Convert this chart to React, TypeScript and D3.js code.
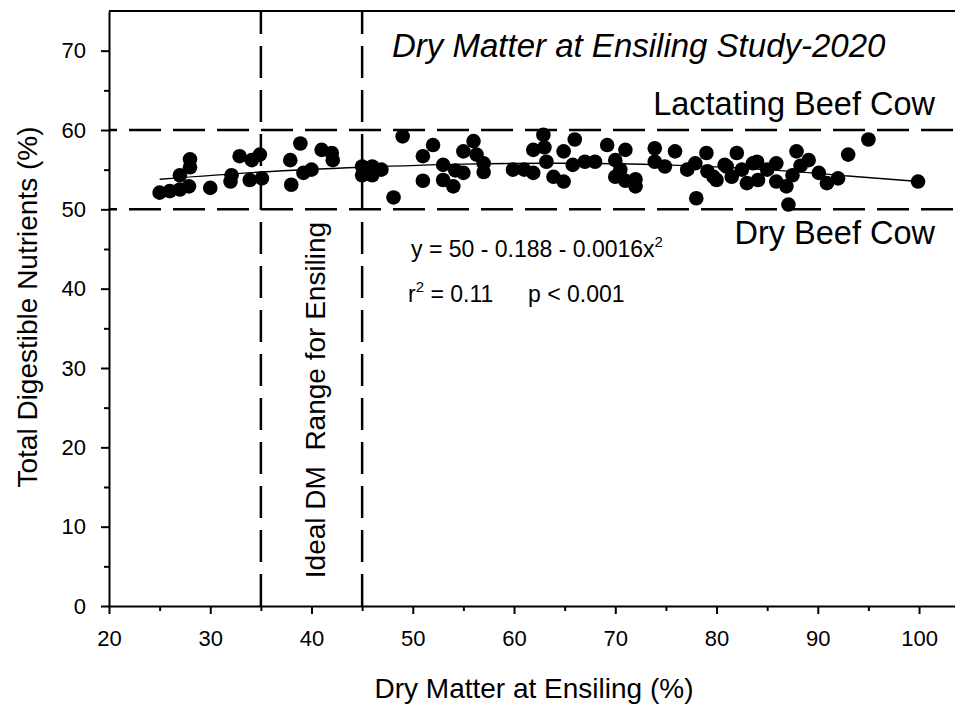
import { useRef, useEffect } from 'react';
import * as d3 from 'd3';

// Dry matter at ensiling (%) and TDN (%) per sample
const dmX = [
  25, 26, 27, 27, 27.9, 28, 28, 30, 32, 32.1, 32.9, 34.1, 34.9, 33.9, 35.1,
  37.9, 38, 38.9, 39.2, 40, 41, 42, 42.1, 45, 45, 46, 46, 46.9, 48.1, 49,
  51, 51, 52, 53, 53, 54, 54.2, 55, 55, 56, 56.3, 57, 57, 59.9, 61, 61.9,
  61.9, 62.9, 63, 63.2, 63.9, 64.9, 64.9, 66, 65.8, 67, 68, 69.2, 70, 70,
  70.5, 71, 71, 72, 72, 73.9, 73.9, 74.9, 75.9, 77.1, 77.9, 78, 79, 79.1,
  79.7, 80, 80.8, 81, 81.5, 82, 82.5, 83, 83.6, 84, 84.1, 85, 85.9, 85.9,
  86.9, 87.1, 87.5, 87.9, 88.3, 89.1, 90.1, 90.9, 92, 93, 95, 99.9,
];
const tdnY = [
  52.1, 52.3, 52.5, 54.3, 52.9, 55.3, 56.3, 52.7, 53.5, 54.3, 56.7, 56.2, 56.9, 53.7, 53.9,
  56.2, 53.1, 58.3, 54.6, 55, 57.5, 57.1, 56.2, 55.4, 54.3, 55.4, 54.3, 55, 51.5, 59.2,
  56.7, 53.6, 58.1, 55.6, 53.7, 52.9, 54.9, 57.3, 54.6, 58.6, 56.9, 55.8, 54.7, 55, 55, 54.6,
  57.5, 59.4, 57.8, 56, 54.1, 53.5, 57.3, 58.8, 55.6, 56, 56, 58.1, 56.2, 54.1,
  55, 57.5, 53.6, 52.9, 53.8, 57.7, 56, 55.4, 57.3, 55, 55.8, 51.4, 57.1, 54.8,
  54.1, 53.7, 55.6, 55.4, 54.1, 57.1, 55, 53.3, 55.8, 56, 53.7, 55, 55.8, 53.5,
  52.9, 50.6, 54.3, 57.3, 55.5, 56.2, 54.6, 53.3, 53.9, 56.9, 58.8, 53.5,
];

// fitted curve
const fitDm = [25, 35, 45, 55, 65, 75, 85, 93, 100];
const fitTdn = [53.8, 54.7, 55.3, 55.7, 55.8, 55.6, 55.0, 54.2, 53.5];

const xTicks = [20, 30, 40, 50, 60, 70, 80, 90, 100];
const xMinor = [25, 35, 45, 55, 65, 75, 85, 95];
const yTicks = [0, 10, 20, 30, 40, 50, 60, 70];
const yMinor = [5, 15, 25, 35, 45, 55, 65];

const cowLevels = [60, 50];
const idealRange = [35, 45];

const font = '"Liberation Sans", Arial, sans-serif';

export default function App() {
  const ref = useRef<SVGSVGElement>(null);

  useEffect(() => {
    const svg = d3.select(ref.current);
    svg.selectAll('*').remove();

    const x = d3.scaleLinear().domain([20, 103.6]).range([109, 955.5]);
    const y = d3.scaleLinear().domain([0, 75]).range([606, 11]);

    const styleAxis = g => {
      g.attr('font-family', font).attr('font-size', 22);
      g.selectAll('path').attr('stroke', '#000').attr('stroke-width', 2);
      g.selectAll('line').attr('stroke', '#000').attr('stroke-width', 2);
      g.selectAll('text').attr('fill', '#000');
    };

    // minor ticks
    svg
      .append('g')
      .attr('transform', `translate(0,${y(0)})`)
      .call(d3.axisBottom(x).tickValues(xMinor).tickSize(5).tickFormat(() => ''))
      .call(styleAxis)
      .select('.domain')
      .remove();
    svg
      .append('g')
      .attr('transform', `translate(${x(20)},0)`)
      .call(d3.axisLeft(y).tickValues(yMinor).tickSize(5).tickFormat(() => ''))
      .call(styleAxis)
      .select('.domain')
      .remove();

    svg
      .append('g')
      .attr('transform', `translate(0,${y(0)})`)
      .call(d3.axisBottom(x).tickValues(xTicks).tickSize(8).tickPadding(16).tickSizeOuter(0))
      .call(styleAxis);

    svg
      .append('g')
      .attr('transform', `translate(${x(20)},0)`)
      .call(d3.axisLeft(y).tickValues(yTicks).tickSize(8).tickPadding(15).tickSizeOuter(0))
      .call(styleAxis);

    // top frame line
    svg
      .append('line')
      .attr('x1', x(20))
      .attr('x2', x(103.6))
      .attr('y1', y(75))
      .attr('y2', y(75))
      .attr('stroke', '#000')
      .attr('stroke-width', 2);

    svg
      .selectAll('line.level')
      .data(cowLevels)
      .enter()
      .append('line')
      .attr('class', 'level')
      .attr('x1', x(20))
      .attr('x2', x(103.6))
      .attr('y1', d => y(d))
      .attr('y2', d => y(d))
      .attr('stroke', '#000')
      .attr('stroke-width', 2.5)
      .attr('stroke-dasharray', '32 12')
      .attr('stroke-dashoffset', -20);

    svg
      .selectAll('line.range')
      .data(idealRange)
      .enter()
      .append('line')
      .attr('class', 'range')
      .attr('x1', d => x(d))
      .attr('x2', d => x(d))
      .attr('y1', y(0))
      .attr('y2', y(75))
      .attr('stroke', '#000')
      .attr('stroke-width', 2.5)
      .attr('stroke-dasharray', '32 12');

    const line = d3
      .line<number>()
      .x((d, i) => x(fitDm[i]))
      .y(d => y(d))
      .curve(d3.curveNatural);

    svg
      .append('path')
      .attr('d', line(fitTdn))
      .attr('fill', 'none')
      .attr('stroke', '#000')
      .attr('stroke-width', 1.4);

    svg
      .selectAll('circle')
      .data(dmX)
      .enter()
      .append('circle')
      .attr('cx', d => x(d))
      .attr('cy', (d, i) => y(tdnY[i]))
      .attr('r', 7.3)
      .attr('fill', '#000');

    const label = (tx, ty, text, size, extra = {}) => {
      const t = svg
        .append('text')
        .attr('x', tx)
        .attr('y', ty)
        .attr('font-family', font)
        .attr('font-size', size)
        .attr('fill', '#000')
        .style('white-space', 'pre')
        .text(text);
      Object.entries(extra).forEach(([k, v]) => t.attr(k, v));
      return t;
    };

    label(392, 57, 'Dry Matter at Ensiling Study-2020', 33, { 'font-style': 'italic' });
    label(935, 115, 'Lactating Beef Cow', 32.5, { 'text-anchor': 'end' });
    label(935, 244, 'Dry Beef Cow', 32.5, { 'text-anchor': 'end' });

    const eq = label(411, 257, 'y = 50 - 0.188 - 0.0016x', 23);
    eq.append('tspan').attr('dy', -10).attr('font-size', 15).text('2');

    const r2 = label(408, 302, 'r', 23);
    r2.append('tspan').attr('dy', -10).attr('font-size', 15).text('2');
    r2.append('tspan').attr('dy', 10).text(' = 0.11');
    label(528, 302, 'p < 0.001', 23);

    label(0, 0, 'Ideal DM  Range for Ensiling', 28, {
      transform: 'translate(325,400) rotate(-90)',
      'text-anchor': 'middle',
    });
    label(0, 0, 'Total Digestible Nutrients (%)', 28, {
      transform: 'translate(37,307) rotate(-90)',
      'text-anchor': 'middle',
    });
    label(534, 698, 'Dry Matter at Ensiling (%)', 28, { 'text-anchor': 'middle' });
  }, []);

  return (
    <svg
      ref={ref}
      width={955}
      height={706}
      style={{ position: 'absolute', left: 0, top: 0, background: '#fff' }}
    />
  );
}
